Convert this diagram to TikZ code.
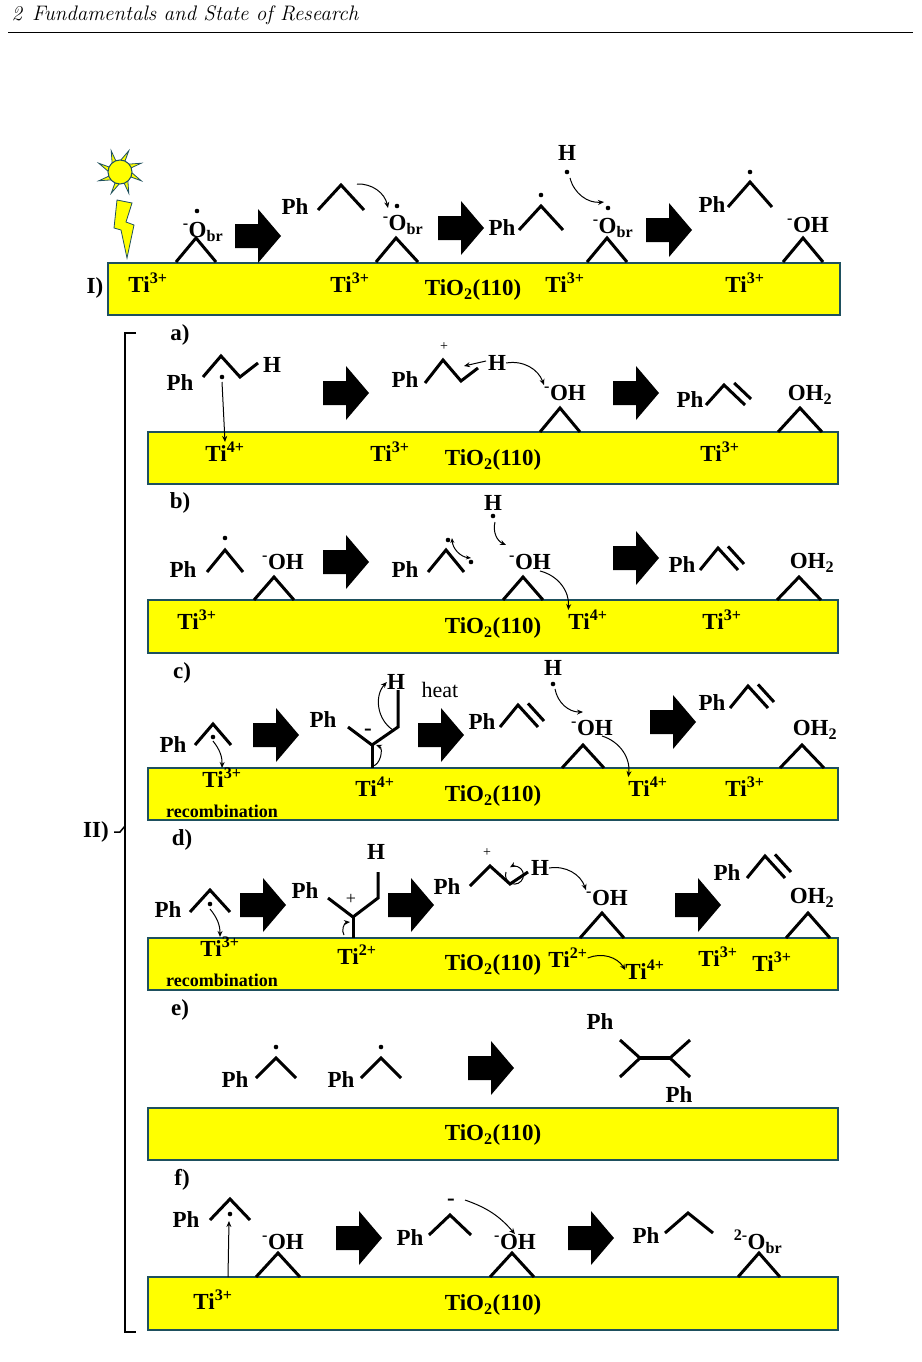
\documentclass[tikz,border=0pt]{standalone}
\usepackage{fontspec}
\newfontfamily\tms{Liberation Serif}
\usetikzlibrary{arrows.meta,calc}
\definecolor{surfline}{RGB}{30,80,95}
\definecolor{surffill}{RGB}{255,255,0}
\newcommand\bigarrow[1]{\fill #1 +(-22,-12) -- +(1,-12) -- +(1,-27) -- +(24,0) -- +(1,27) -- +(1,12) -- +(-22,12) -- cycle;}
\newcommand\dblbond[3]{\draw[bond] #1 -- #2 -- #3;
  \draw[bond] ($#2!0.2!#3+(6,-6)$) -- ($#2!1!#3+(6,-6)$);}
\tikzset{
  bond/.style={line width=3pt},
  lbl/.style={font=\tms\bfseries\fontsize{23}{25}\selectfont, inner sep=0pt},
  small/.style={font=\tms\bfseries\fontsize{18}{20}\selectfont, inner sep=0pt},
  surf/.style={fill=surffill, draw=surfline, line width=2.5pt},
  curv/.style={-{Stealth[length=6pt,width=5pt]}, line width=1pt},
}
\begin{document}
\begin{tikzpicture}[x=1pt,y=-1pt]
\useasboundingbox (0,0) rectangle (921,1362);
% header
\node[anchor=west, font=\itshape\fontsize{21}{24}\selectfont] (head) at (8,15) {2\hspace{10pt}Fundamentals and State of Research};
\draw[line width=0.8pt] (8,32) -- (913,32);

% I)
\draw[surf] (108,263) rectangle (840,315);
\node[lbl] (lI) at (95,288) {I)};
\node[lbl] (tiA) at (148,283) {Ti\textsuperscript{3+}};
\node[lbl] (tiB) at (350,283) {Ti\textsuperscript{3+}};
\node[lbl] (tiC) at (565,283) {Ti\textsuperscript{3+}};
\node[lbl] (tiD) at (745,283) {Ti\textsuperscript{3+}};
\node[lbl] (oxI) at (473,290) {TiO\textsubscript{2}(110)};
% sun and lightning
\foreach \a in {0,45,...,315}
  \fill[surffill, draw=surfline, line width=0.8pt] (120,172) ++(\a:11) -- ++(\a+90:5) -- ($(120,172)+(\a+22.5:23)$) -- cycle;
\filldraw[fill=surffill, draw=surfline, line width=1pt] (120,172) circle (12);
\filldraw[fill=surffill, draw=surfline, line width=0.8pt] (117,200) -- (132,203) -- (126,222) -- (134,225) -- (127,258) -- (121,230) -- (114,228) -- cycle;
\draw[bond] (176,262) -- (196,238) -- (216,262);
\node[lbl] (obA) at (203,232) {\textsuperscript{-}O\textsubscript{br}};
\fill (197,211) circle (2.3);
\bigarrow{(257,236)}
\node[lbl] (phA) at (295,207) {Ph};
\draw[bond] (318,210) -- (341,185) -- (364,210);
\coordinate (rA) at (357,184);
\draw[bond] (376,262) -- (396,238) -- (418,262);
\node[lbl] (obB) at (403,225) {\textsuperscript{-}O\textsubscript{br}};
\fill (397,206) circle (2.3);
\draw[curv] (rA) to[bend left=40] (388,208);
\bigarrow{(460,228)}
\node[lbl] (phB) at (502,228) {Ph};
\draw[bond] (519,230) -- (541,206) -- (563,230);
\fill (541,195) circle (2.3);
\node[lbl] (hA) at (567,153) {H};
\fill (567,172) circle (2.3);
\draw[bond] (587,262) -- (607,238) -- (627,262);
\node[lbl] (obC) at (613,228) {\textsuperscript{-}O\textsubscript{br}};
\fill (608,208) circle (2.3);
\draw[curv] (570,178) to[bend right=40] (604,202);
\bigarrow{(668,230)}
\node[lbl] (phC) at (712,205) {Ph};
\draw[bond] (728,207) -- (750,182) -- (772,207);
\fill (750,172) circle (2.3);
\draw[bond] (783,262) -- (803,238) -- (823,262);
\node[lbl] (ohA) at (808,225) {\textsuperscript{-}OH};

% II) bracket
\draw[line width=1.5pt] (136,333) -- (125,333) -- (125,1332) -- (136,1332);
\draw[line width=1.5pt] (114,832) -- (120,832) -- (125,826);
\node[lbl] (lII) at (96,832) {II)};

% a)
\node[lbl] (la) at (180,335) {a)};
\draw[surf] (148,432) rectangle (838,484);
\node[lbl] (a1) at (225,452) {Ti\textsuperscript{4+}};
\node[lbl] (a2) at (390,452) {Ti\textsuperscript{3+}};
\node[lbl] (a3) at (720,452) {Ti\textsuperscript{3+}};
\node[lbl] (oxa) at (493,460) {TiO\textsubscript{2}(110)};
\node[lbl] (pha) at (180,383) {Ph};
\draw[bond] (203,377) -- (221,356) -- (240,377) -- (258,363);
\node[lbl] (ha) at (272,365) {H};
\fill (222,377) circle (2.3);
\draw[curv] (222,382) -- (a1.north);
\bigarrow{(345,393)}
\node[lbl] (phb) at (405,380) {Ph};
\draw[bond] (425,383) -- (443,360) -- (461,381) -- (478,368);
\node[font=\tms\fontsize{14}{16}\selectfont, inner sep=0pt] (pla) at (444,347) {+};
\node[lbl] (hb) at (497,363) {H};
\draw[curv] (486,361) -- (464,366);
\draw[bond] (540,432) -- (560,408) -- (580,432);
\node[lbl] (oha) at (565,393) {\textsuperscript{-}OH};
\draw[curv] (hb.east) to[bend left=40] (oha.north west);
\bigarrow{(635,393)}
\node[lbl] (phc) at (690,400) {Ph};
\dblbond{(706,405)}{(724,385)}{(745,405)}
\draw[bond] (778,432) -- (800,408) -- (822,432);
\node[lbl] (oh2a) at (810,395) {OH\textsubscript{2}};

% b)
\node[lbl] (lb) at (180,503) {b)};
\draw[surf] (148,600) rectangle (838,653);
\node[lbl] (b1) at (197,620) {Ti\textsuperscript{3+}};
\node[lbl] (b2) at (588,620) {Ti\textsuperscript{4+}};
\node[lbl] (b3) at (722,620) {Ti\textsuperscript{3+}};
\node[lbl] (oxb) at (493,628) {TiO\textsubscript{2}(110)};
\node[lbl] (phd) at (183,570) {Ph};
\draw[bond] (207,572) -- (225,550) -- (243,572);
\fill (225,538) circle (2.3);
\draw[bond] (254,600) -- (274,577) -- (294,600);
\node[lbl] (ohb) at (283,562) {\textsuperscript{-}OH};
\bigarrow{(345,562)}
\node[lbl] (phe) at (405,570) {Ph};
\draw[bond] (428,572) -- (446,550) -- (464,572);
\fill (448,540) circle (2.3);
\fill (471,562) circle (2.3);
\draw[{Stealth[length=5pt,width=4pt]}-{Stealth[length=5pt,width=4pt]}, line width=1pt] (452,538) to[bend right=40] (471,558);
\node[lbl] (hc) at (493,503) {H};
\fill (493,516) circle (2.3);
\draw[curv] (495,522) to[bend right=40] (506,545);
\draw[bond] (503,600) -- (523,577) -- (543,600);
\node[lbl] (ohc) at (530,562) {\textsuperscript{-}OH};
\draw[curv] (540,571) to[bend left=40] (b2.north west);
\bigarrow{(635,558)}
\node[lbl] (phf) at (682,565) {Ph};
\dblbond{(700,570)}{(718,548)}{(738,570)}
\draw[bond] (777,600) -- (799,577) -- (821,600);
\node[lbl] (oh2b) at (812,563) {OH\textsubscript{2}};

% c)
\node[lbl] (lc) at (182,673) {c)};
\draw[surf] (148,768) rectangle (838,820);
\node[lbl] (c1) at (222,778) {Ti\textsuperscript{3+}};
\node[small] (rc) at (222,811) {recombination};
\node[lbl] (c2) at (375,787) {Ti\textsuperscript{4+}};
\node[lbl] (c3) at (648,787) {Ti\textsuperscript{4+}};
\node[lbl] (c4) at (745,787) {Ti\textsuperscript{3+}};
\node[lbl] (oxc) at (493,796) {TiO\textsubscript{2}(110)};
\node[lbl] (phg) at (173,745) {Ph};
\draw[bond] (195,745) -- (213,724) -- (231,745);
\fill (213,737) circle (2.3);
\draw[curv] (213,741) to[bend left=20] (c1.north);
\bigarrow{(275,735)}
\node[lbl] (phh) at (323,720) {Ph};
\draw[bond] (348,727) -- (372,745) -- (398,727) -- (398,690);
\draw[bond] (372,745) -- (372,768);
\node[lbl] (hd) at (396,682) {H};
\node[lbl] (mc) at (368,732) {-};
\draw[curv] (393,730) to[bend left=50] (hd.west);
\draw[curv] (372,766) to[bend right=80] (376,745);
\node[font=\tms\fontsize{22}{24}\selectfont, inner sep=0pt] (heat) at (440,690) {heat};
\bigarrow{(440,735)}
\node[lbl] (phi) at (482,722) {Ph};
\dblbond{(500,727)}{(518,705)}{(538,727)}
\node[lbl] (he) at (553,668) {H};
\fill (553,684) circle (2.3);
\draw[curv] (555,689) to[bend right=40] (583,712);
\draw[bond] (562,768) -- (583,745) -- (604,768);
\node[lbl] (ohd) at (592,728) {\textsuperscript{-}OH};
\draw[curv] (602,736) to[bend left=40] (c3.north west);
\bigarrow{(672,722)}
\node[lbl] (phj) at (712,703) {Ph};
\dblbond{(730,708)}{(748,686)}{(768,708)}
\draw[bond] (780,768) -- (802,745) -- (824,768);
\node[lbl] (oh2c) at (815,730) {OH\textsubscript{2}};

% d)
\node[lbl] (ld) at (182,840) {d)};
\draw[surf] (148,938) rectangle (838,990);
\node[lbl] (d1) at (220,947) {Ti\textsuperscript{3+}};
\node[small] (rd) at (222,980) {recombination};
\node[lbl] (d2) at (357,955) {Ti\textsuperscript{2+}};
\node[lbl] (d3) at (568,958) {Ti\textsuperscript{2+}};
\node[lbl] (d4) at (645,970) {Ti\textsuperscript{4+}};
\node[lbl] (d5) at (718,957) {Ti\textsuperscript{3+}};
\node[lbl] (d6) at (772,962) {Ti\textsuperscript{3+}};
\node[lbl] (oxd) at (493,965) {TiO\textsubscript{2}(110)};
\draw[curv] (d3.east) to[bend left=40] (d4.west);
\node[lbl] (phk) at (168,910) {Ph};
\draw[bond] (190,912) -- (210,890) -- (230,912);
\fill (210,904) circle (2.3);
\draw[curv] (210,909) to[bend left=20] (d1.north);
\bigarrow{(262,905)}
\node[lbl] (phl) at (305,891) {Ph};
\draw[bond] (328,898) -- (353,917) -- (378,898) -- (378,872);
\draw[bond] (353,917) -- (353,938);
\node[lbl] (hf) at (376,852) {H};
\node[font=\tms\fontsize{18}{20}\selectfont, inner sep=0pt] (pd) at (351,899) {+};
\draw[curv] (344,935) to[bend left=60] (350,922);
\bigarrow{(410,905)}
\node[lbl] (phm) at (447,887) {Ph};
\draw[bond] (470,886) -- (490,866) -- (510,884) -- (528,872);
\node[font=\tms\fontsize{14}{16}\selectfont, inner sep=0pt] (pe) at (487,853) {+};
\node[lbl] (hg) at (540,868) {H};
\draw[curv] (506,872) arc[start angle=200, end angle=-120, radius=9];
\draw[bond] (580,938) -- (602,913) -- (624,938);
\node[lbl] (ohe) at (607,898) {\textsuperscript{-}OH};
\draw[curv] (hg.east) to[bend left=40] (ohe.north west);
\bigarrow{(697,905)}
\node[lbl] (phn) at (727,873) {Ph};
\dblbond{(747,878)}{(765,856)}{(785,878)}
\draw[bond] (786,938) -- (808,913) -- (830,938);
\node[lbl] (oh2d) at (812,898) {OH\textsubscript{2}};

% e)
\node[lbl] (le) at (180,1010) {e)};
\draw[surf] (148,1108) rectangle (838,1160);
\node[lbl] (oxe) at (493,1135) {TiO\textsubscript{2}(110)};
\node[lbl] (pho) at (235,1080) {Ph};
\draw[bond] (256,1078) -- (276,1058) -- (296,1078);
\fill (276,1047) circle (2.3);
\node[lbl] (php) at (341,1080) {Ph};
\draw[bond] (361,1078) -- (381,1058) -- (401,1078);
\fill (381,1047) circle (2.3);
\bigarrow{(490,1068)}
\draw[bond] (620,1040) -- (640,1058) -- (620,1077);
\draw[bond] (690,1040) -- (670,1058) -- (690,1077);
\draw[line width=4pt] (640,1058) -- (670,1058);
\node[lbl] (phq) at (600,1022) {Ph};
\node[lbl] (phr) at (679,1095) {Ph};

% f)
\node[lbl] (lf) at (182,1180) {f)};
\draw[surf] (148,1277) rectangle (838,1330);
\node[lbl] (f1) at (213,1300) {Ti\textsuperscript{3+}};
\node[lbl] (oxf) at (493,1305) {TiO\textsubscript{2}(110)};
\node[lbl] (phs) at (186,1220) {Ph};
\draw[bond] (210,1220) -- (230,1199) -- (250,1220);
\fill (230,1214) circle (2.3);
\draw[curv] (228,1277) -- (229,1221);
\draw[bond] (256,1277) -- (278,1253) -- (300,1277);
\node[lbl] (ohf) at (283,1242) {\textsuperscript{-}OH};
\bigarrow{(358,1238)}
\node[lbl] (pht) at (410,1238) {Ph};
\draw[bond] (429,1235) -- (450,1215) -- (471,1235);
\node[lbl] (mf) at (451,1202) {-};
\draw[bond] (490,1277) -- (512,1253) -- (534,1277);
\node[lbl] (ohg) at (515,1242) {\textsuperscript{-}OH};
\draw[curv] (465,1200) to[bend left=15] (ohg.north);
\bigarrow{(590,1238)}
\node[lbl] (phu) at (646,1236) {Ph};
\draw[bond] (665,1233) -- (688,1213) -- (713,1233);
\draw[bond] (738,1277) -- (759,1253) -- (780,1277);
\node[lbl] (obf) at (758,1242) {\textsuperscript{2-}O\textsubscript{br}};
\end{tikzpicture}
\end{document}
